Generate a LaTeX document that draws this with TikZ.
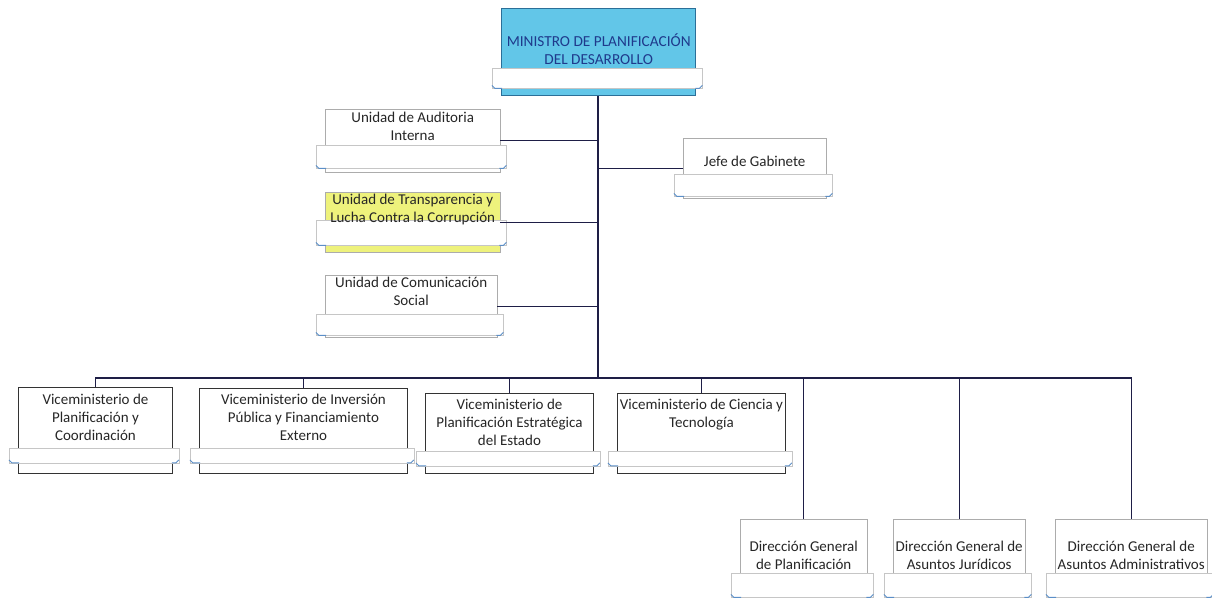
\documentclass[tikz,border=0pt]{standalone}
\usepackage{fontspec}
\setmainfont{Carlito}
\usetikzlibrary{positioning}

\definecolor{minfill}{HTML}{62C6E8}
\definecolor{minedge}{HTML}{2B6F98}
\definecolor{mintext}{HTML}{1F3A8C}
\definecolor{tranfill}{HTML}{EEF27C}
\definecolor{linkcol}{HTML}{1E1E46}
\definecolor{curlcol}{HTML}{5B8FC8}

\newcommand{\orgfont}{\fontsize{15}{18}\selectfont}
\newcommand{\minfont}{\fontsize{15.3}{17.5}\selectfont}

\newcommand{\ribbon}[3]{%
  \filldraw[ribbonbox] ([xshift=-9pt,yshift=#2]#1.south west) rectangle ([xshift=6pt,yshift=#3]#1.south east);
  \draw[curl] ([xshift=-9pt,yshift=#3+3]#1.south west) -- ([xshift=-6pt,yshift=#3]#1.south west) -- ([xshift=1pt,yshift=#3]#1.south west);
  \draw[curl] ([xshift=6pt,yshift=#3+3]#1.south east) -- ([xshift=3pt,yshift=#3]#1.south east) -- ([xshift=-1pt,yshift=#3]#1.south east);
}

\begin{document}
\begin{tikzpicture}[x=1pt,y=-1pt,
                    unit/.style={draw=gray!65,fill=white,anchor=north west,inner sep=0pt},
                    vice/.style={unit,draw=black!80,line width=0.9pt},
                    txt/.style={align=center,inner sep=0pt,font=\orgfont,text=black!85},
                    link/.style={draw=linkcol,line width=1.1pt},
                    ribbonbox/.style={draw=gray!45,fill=white,line width=0.6pt},
                    curl/.style={draw=curlcol,line width=0.9pt}]
  \useasboundingbox (0,0) rectangle (1212,597);

  \node[unit,fill=minfill,draw=minedge,line width=1.4pt,minimum width=194pt,minimum height=87pt] (min) at (501,8) {};
  \node[unit,minimum width=175pt,minimum height=63pt] (aud) at (325,109) {};
  \node[unit,fill=tranfill,minimum width=175pt,minimum height=60pt] (tra) at (325,192) {};
  \node[unit,minimum width=172pt,minimum height=62pt] (com) at (325,275) {};
  \node[unit,minimum width=143pt,minimum height=60pt] (jef) at (683,138) {};
  \node[vice,minimum width=154pt,minimum height=86pt] (v1) at (18,387) {};
  \node[vice,minimum width=208pt,minimum height=85pt] (v2) at (199,388) {};
  \node[vice,minimum width=168pt,minimum height=80pt] (v3) at (425,393) {};
  \node[vice,minimum width=168pt,minimum height=80pt] (v4) at (617,393) {};
  \node[unit,minimum width=127pt,minimum height=90pt] (d1) at (740,519) {};
  \node[unit,minimum width=132pt,minimum height=90pt] (d2) at (893,519) {};
  \node[unit,minimum width=152pt,minimum height=90pt] (d3) at (1055,519) {};

  \ribbon{min}{28}{8}
  \ribbon{aud}{27}{4}
  \ribbon{tra}{32}{7}
  \ribbon{com}{23}{2}
  \ribbon{jef}{24}{2}
  \foreach \n in {v1,v2}{\ribbon{\n}{26}{11}}
  \foreach \n in {v3,v4}{\ribbon{\n}{23}{8}}
  \foreach \n in {d1,d2,d3}{\ribbon{\n}{36}{12}}

  \node[txt,font=\minfont,text=mintext] (minT) [below=26pt of min.north] {MINISTRO DE PLANIFICACIÓN\\DEL DESARROLLO};
  \node[txt] (audT) [below=3pt of aud.north] {Unidad de Auditoria\\Interna};
  \node[txt] (traT) [below=2pt of tra.north] {Unidad de Transparencia y\\Lucha Contra la Corrupción};
  \node[txt] (comT) [below=2pt of com.north] {Unidad de Comunicación\\Social};
  \node[txt] (jefT) [below=18pt of jef.north] {Jefe de Gabinete};
  \node[txt] (v1T) [below=7pt of v1.north] {Viceministerio de\\Planificación y\\Coordinación};
  \node[txt] (v2T) [below=6pt of v2.north] {Viceministerio de Inversión\\Pública y Financiamiento\\Externo};
  \node[txt] (v3T) [below=6pt of v3.north] {Viceministerio de\\Planificación Estratégica\\del Estado};
  \node[txt] (v4T) [below=6pt of v4.north] {Viceministerio de Ciencia y\\Tecnología};
  \node[txt] (d1T) [below=22pt of d1.north] {Dirección General\\de Planificación};
  \node[txt] (d2T) [below=22pt of d2.north] {Dirección General de\\Asuntos Jurídicos};
  \node[txt] (d3T) [below=22pt of d3.north] {Dirección General de\\Asuntos Administrativos};

  \coordinate (bus) at (598,378);
  \draw[link] (min.south -| bus) -- (bus);
  \foreach \n in {aud,tra,com}
    \draw[link] (\n.east) -- (\n.east -| bus);
  \draw[link] (jef.west) -- (jef.west -| bus);
  \draw[link] (v1.north) -- (v1.north |- bus) -- (d3.north |- bus) -- (d3.north);
  \foreach \n in {v2,v3,v4,d1,d2}
    \draw[link] (\n.north) -- (\n.north |- bus);
\end{tikzpicture}
\end{document}
